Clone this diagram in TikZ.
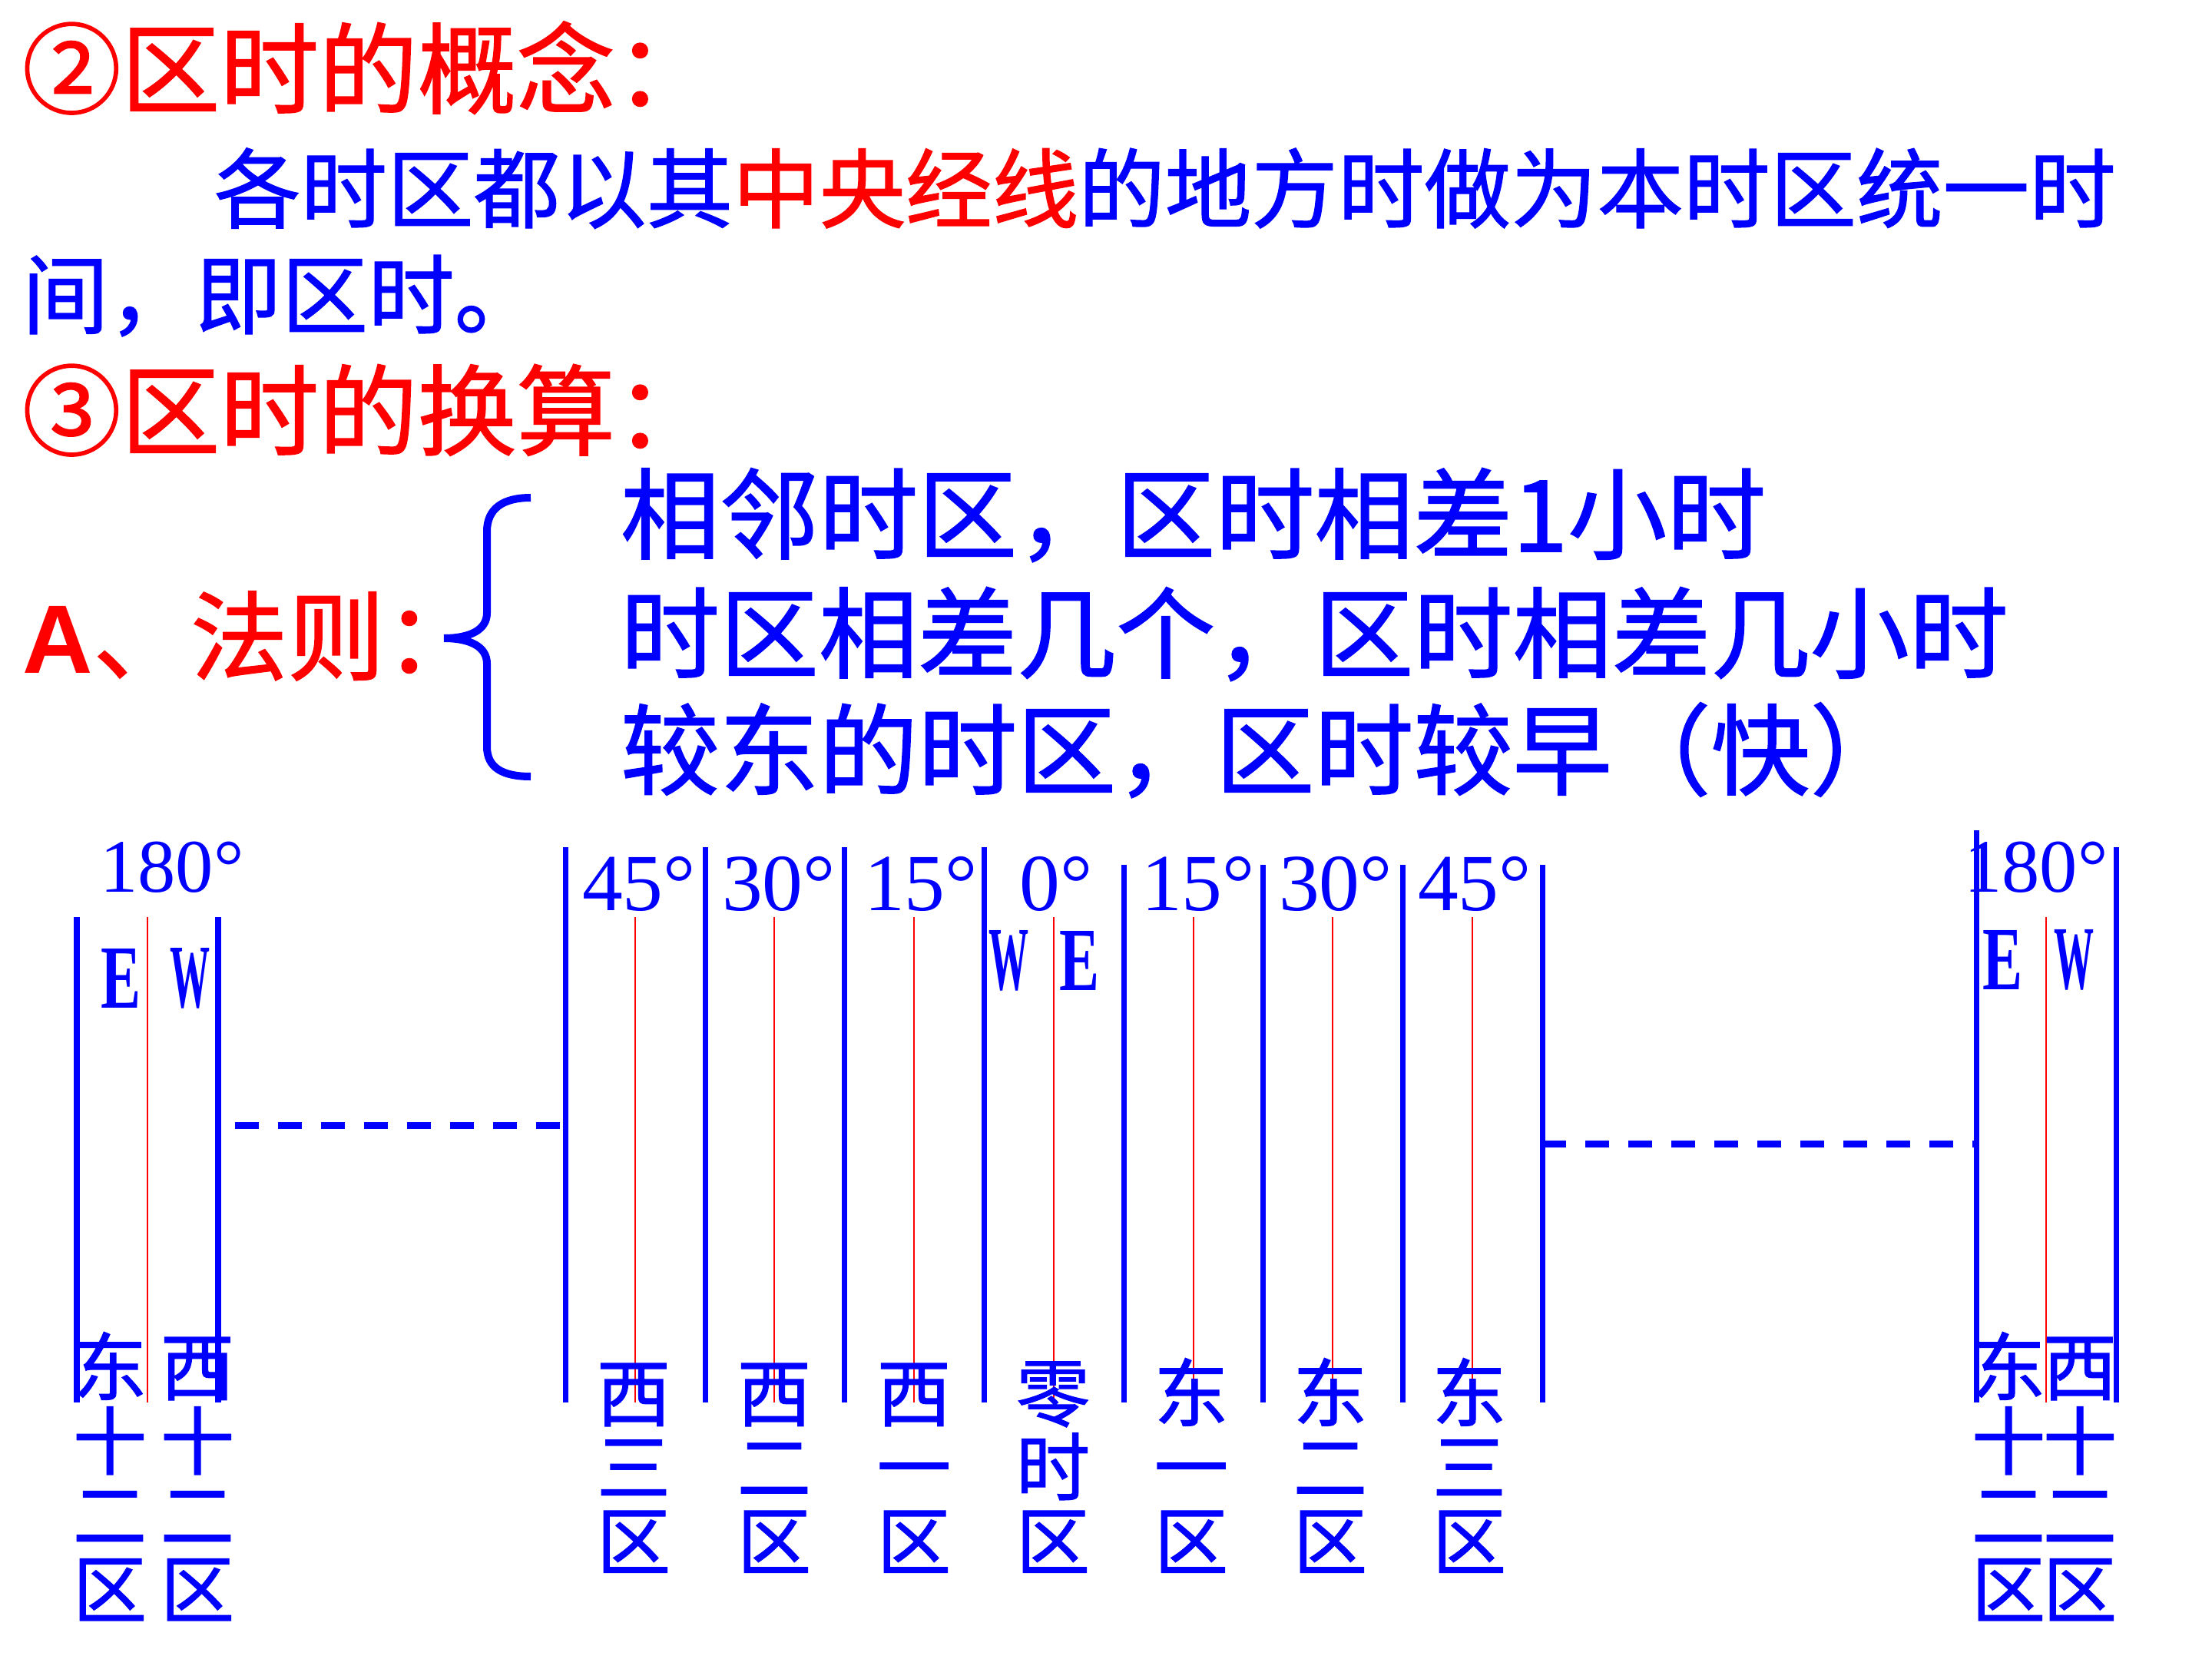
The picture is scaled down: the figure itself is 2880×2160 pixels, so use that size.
\documentclass[tikz,border=0pt]{standalone}
\usepackage{fontspec}
\usepackage{graphicx}
\newfontfamily\cjk[FakeBold=1.2]{Noto Sans CJK SC}
\newfontfamily\tnr{Liberation Serif}
\newfontfamily\arl{Liberation Sans}
\definecolor{pblue}{RGB}{0,0,255}
\definecolor{pred}{RGB}{255,0,0}
\tikzset{
  txt/.style={inner sep=0pt, outer sep=0pt, anchor=base west},
  titletxt/.style={txt, text=pred, font=\cjk\fontsize{36.6pt}{44pt}\selectfont},
  bodytxt/.style={txt, text=pblue, font=\cjk\fontsize{32pt}{38pt}\selectfont},
  ruletxt/.style={txt, text=pblue, font=\cjk\fontsize{36.7pt}{44pt}\selectfont},
  zl/.style={inner sep=0pt, outer sep=0pt, anchor=base, text=pblue, font=\cjk\fontsize{27.4pt}{30pt}\selectfont},
  deg/.style={inner sep=0pt, outer sep=0pt, anchor=base, text=pblue, font=\tnr\fontsize{30pt}{34pt}\selectfont},
  degbig/.style={deg, font=\tnr\fontsize{28pt}{32pt}\selectfont},
  ew/.style={inner sep=0pt, outer sep=0pt, anchor=center, text=pblue, font=\tnr\bfseries\fontsize{30pt}{34pt}\selectfont},
  meridian/.style={draw=pblue, line width=0.07cm},
  central/.style={draw=pred, line width=0.02cm},
  gapline/.style={draw=pblue, line width=0.09cm, dash pattern=on 0.31cm off 0.25cm},
  bracepath/.style={draw=pblue, line width=0.1cm}
}
\newcommand\zcol[4]{\foreach \c [count=\i from 0] in {#4}{\node[zl] (#1-\i) at (#2, #3+96.5*\i) {\c};}}
\newcommand\EW[1]{\resizebox{0.52cm}{0.77cm}{#1}}
\begin{document}
\begin{tikzpicture}[x=0.01cm, y=-0.01cm]
\fill[white] (0,0) rectangle (2880,2160);
\useasboundingbox (0,0) rectangle (2880,2160);

% ---------- text ----------
\node[titletxt] (t1) at (29,138) {②区时的概念：};
\node[bodytxt] (b1) at (279,288) {各时区都以其\textcolor{pred}{中央经线}的地方时做为本时区统一时};
\node[bodytxt] (b2) at (29,426) {间，即区时。};
\node[titletxt] (t2) at (29,583) {③区时的换算：};
\node[txt, text=pred] (rh) at (30,876) {{\arl\bfseries\fontsize{36pt}{40pt}\selectfont A}{\cjk\fontsize{36pt}{40pt}\selectfont 、法则：}};
\node[ruletxt] (r1) at (808,718) {相邻时区，区时相差1小时};
\node[ruletxt] (r2) at (808,873) {时区相差几个，区时相差几小时};
\node[ruletxt] (r3) at (808,1025) {较东的时区，区时较早（快）};

% brace
\draw[bracepath] (691,648) .. controls (655,648) and (634,662) .. (634,692) -- (634,798)
  .. controls (634,820) and (612,831) .. (578,831)
  .. controls (612,831) and (634,842) .. (634,864) -- (634,972)
  .. controls (634,1000) and (655,1011) .. (691,1011);

% ---------- meridians ----------
% left 180
\draw[meridian] (100,1194) -- (100,1826);
\draw[meridian] (284,1194) -- (284,1826);
\draw[central] (192,1194) -- (192,1826);
% western group
\foreach \xx in {736,918,1099,1281} \draw[meridian] (\xx,1103) -- (\xx,1826);
% eastern group
\foreach \xx in {1463,1644,1826,2008} \draw[meridian] (\xx,1126) -- (\xx,1826);
% central meridians
\foreach \xx in {827,1008,1190,1372,1554,1735,1917} \draw[central] (\xx,1194) -- (\xx,1826);
% right 180
\draw[meridian] (2573,1081) -- (2573,1826);
\draw[meridian] (2755,1103) -- (2755,1826);
\draw[central] (2664,1194) -- (2664,1826);

% dashed gaps
\coordinate (gl1) at (306,1465);
\coordinate (gl2) at (733,1465);
\coordinate (gr1) at (2008,1489);
\coordinate (gr2) at (2570,1489);
\draw[gapline] (gl1) -- (gl2);
\draw[gapline] (gr1) -- (gr2);

% degree labels
\node[degbig] (d180l) at (224,1161) {180°};
\node[deg] (d45w) at (832,1185) {45°};
\node[deg] (d30w) at (1014,1185) {30°};
\node[deg] (d15w) at (1199,1185) {15°};
\node[deg] (d0) at (1375,1185) {0°};
\node[deg] (d15e) at (1560,1185) {15°};
\node[deg] (d30e) at (1739,1185) {30°};
\node[deg] (d45e) at (1920,1185) {45°};
\node[degbig] (d180r) at (2651,1161) {180°};

% E / W
\node[ew] (el) at (158,1274) {\EW{E}};
\node[ew] (wl) at (248,1274) {\EW{W}};
\node[ew] (wm) at (1314,1251) {\EW{W}};
\node[ew] (em) at (1406,1251) {\EW{E}};
\node[ew] (er) at (2607,1250) {\EW{E}};
\node[ew] (wr) at (2700,1250) {\EW{W}};

% zone names
\zcol{ze12l}{143}{1815.7}{东,十,二,区}
\zcol{zw12l}{257}{1815.7}{西,十,二,区}
\zcol{zw3}{825}{1849.7}{西,三,区}
\zcol{zw2}{1008}{1849.7}{西,二,区}
\zcol{zw1}{1190}{1849.7}{西,一,区}
\zcol{zz0}{1371}{1849.7}{零,时,区}
\zcol{ze1}{1551}{1849.7}{东,一,区}
\zcol{ze2}{1732}{1849.7}{东,二,区}
\zcol{ze3}{1913}{1849.7}{东,三,区}
\zcol{ze12r}{2615}{1815.7}{东,十,二,区}
\zcol{zw12r}{2708}{1815.7}{西,十,二,区}
\end{tikzpicture}
\end{document}
